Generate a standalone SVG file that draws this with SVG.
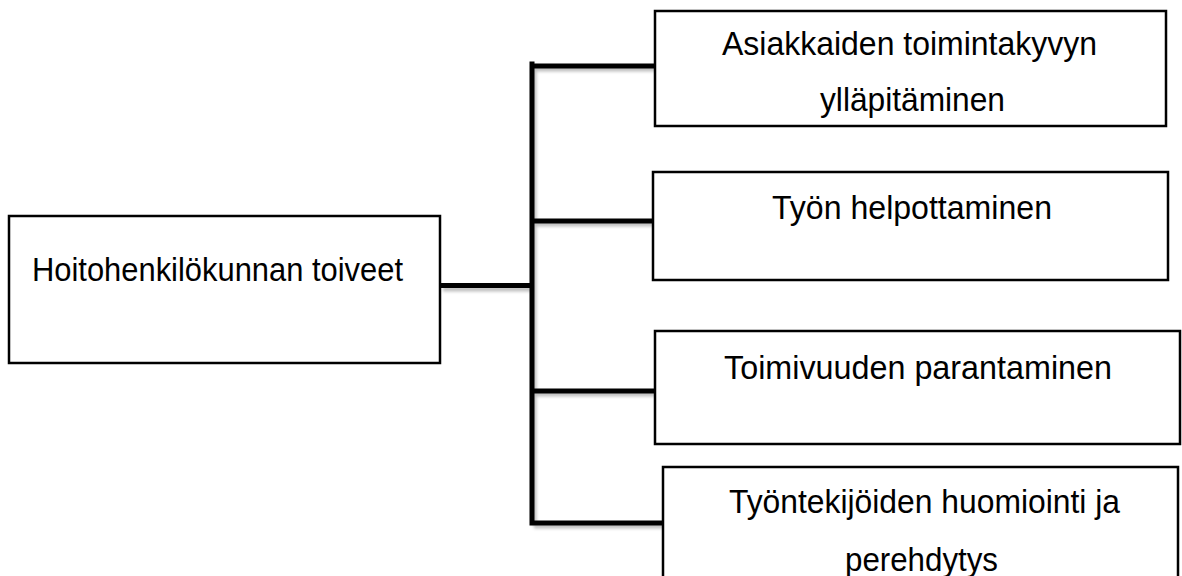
<svg xmlns="http://www.w3.org/2000/svg" width="1182" height="576" viewBox="0 0 1182 576">
<style>
.box{fill:#fff;stroke:#000;stroke-width:2.5}
.t{font-family:"Liberation Sans",Arial,sans-serif;font-size:34px;fill:#000;text-anchor:middle}
.c{fill:none;stroke:#000;stroke-width:5;stroke-linecap:square}
.s{fill:none;stroke:#000;stroke-opacity:0.25;stroke-width:5;filter:url(#blur)}
</style>
<defs>
<filter id="blur" x="-10%" y="-50%" width="120%" height="200%"><feGaussianBlur stdDeviation="1.5"/></filter>
</defs>
<rect width="1182" height="576" fill="#fff"/>
<g id="connectors">
<path class="s" d="M443 289H532M534 66V525M534 69H655M534 224H653M534 394H655M534 526H663"/>
<path class="c" d="M443 285.5H532M532 64V523M532 66H655M532 221H653M532 391H655M532 523H663"/>
</g>
<g id="root">
<rect class="box" x="9" y="216" width="431" height="147"/>
<text class="t" x="217.5" y="281" font-size="32" textLength="371" lengthAdjust="spacingAndGlyphs">Hoitohenkilökunnan toiveet</text>
</g>
<g id="n1">
<rect class="box" x="655" y="11" width="511" height="115"/>
<text class="t" x="909.5" y="55" textLength="375" lengthAdjust="spacingAndGlyphs">Asiakkaiden toimintakyvyn</text>
<text class="t" x="912.5" y="111" textLength="185" lengthAdjust="spacingAndGlyphs">ylläpitäminen</text>
</g>
<g id="n2">
<rect class="box" x="653" y="172" width="515" height="108"/>
<text class="t" x="912" y="219" textLength="280" lengthAdjust="spacingAndGlyphs">Työn helpottaminen</text>
</g>
<g id="n3">
<rect class="box" x="655" y="331" width="525" height="113"/>
<text class="t" x="918" y="379" textLength="388" lengthAdjust="spacingAndGlyphs">Toimivuuden parantaminen</text>
</g>
<g id="n4">
<rect class="box" x="663" y="467" width="515" height="120"/>
<text class="t" x="924.5" y="513" textLength="391" lengthAdjust="spacingAndGlyphs">Työntekijöiden huomiointi ja</text>
<text class="t" x="921.5" y="571" textLength="153" lengthAdjust="spacingAndGlyphs">perehdytys</text>
</g>
</svg>
